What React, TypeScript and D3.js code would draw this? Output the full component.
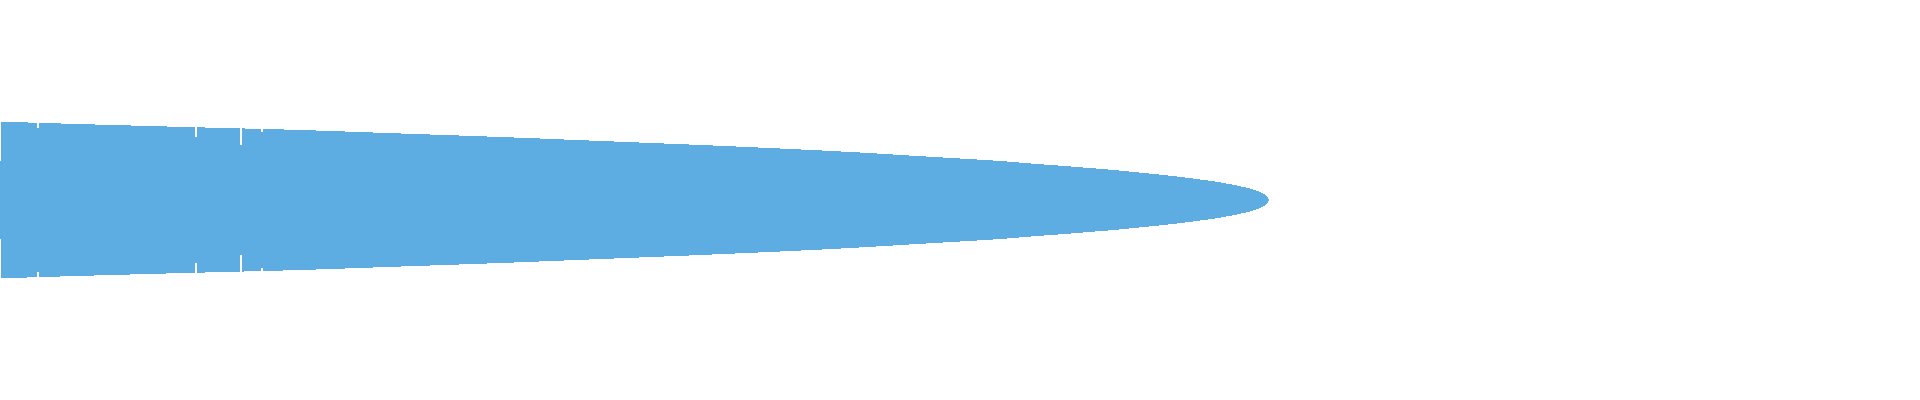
import { useMemo } from "react";
import * as d3 from "d3";

const WIDTH = 1920;
const HEIGHT = 400;
const FILL = "#5DADE2";

// rank position along the spread and the half width of the band there
const positions = [0, 100, 200, 300, 400, 500, 600, 700, 800, 850, 900, 950, 1000, 1036, 1064, 1088, 1113, 1133, 1153, 1172, 1188, 1203, 1217, 1228, 1238, 1247, 1253, 1259, 1263, 1266, 1267.7];
const halfWidths = [78.3, 75.3, 72.6, 70, 66.5, 63, 59, 55, 50.5, 48, 45, 42, 39, 36, 34, 32, 30, 28, 26, 24, 22, 20, 18, 16, 14, 12, 10, 8, 6, 4, 0];

// first column, drawn narrower than the rest
const leadHalfWidth = 39;

// thin breaks in the outline
const gapPositions = [36, 194, 239, 260];
const gapDepths = [5, 9.5, 17, 3.5];

export default function App() {
  const x = d3.scaleLinear().domain([0, 1267]).range([1, 1268]);
  const y = d3.scaleLinear().domain([-100, 100]).range([300, 100]);
  const edge = d3.scaleLinear().domain(positions).range(halfWidths);

  const path = useMemo(() => {
    const pts = positions.map((p, i) => ({ p, h: halfWidths[i] }));
    const area = d3
      .area<{ p: number; h: number }>()
      .x((d) => x(d.p))
      .y0((d) => y(-d.h))
      .y1((d) => y(d.h))
      .curve(d3.curveMonotoneX);
    return area(pts) ?? "";
  }, []);

  return (
    <svg
      width={WIDTH}
      height={HEIGHT}
      style={{ position: "absolute", left: 0, top: 0, display: "block" }}
    >
      <rect width={WIDTH} height={HEIGHT} fill="#fff" />
      <g shapeRendering="crispEdges">
        <rect x={x(0) - 1} width={1} y={y(leadHalfWidth)} height={y(-leadHalfWidth) - y(leadHalfWidth)} fill={FILL} />
        <path d={path} fill={FILL} />
        {gapPositions.map((p, i) => {
          const h = edge(p);
          return (
            <g key={i}>
              <rect x={x(p)} width={2} y={0} height={y(h - gapDepths[i])} fill="#fff" />
              <rect x={x(p)} width={2} y={y(-h + gapDepths[i])} height={HEIGHT - y(-h + gapDepths[i])} fill="#fff" />
            </g>
          );
        })}
      </g>
    </svg>
  );
}
